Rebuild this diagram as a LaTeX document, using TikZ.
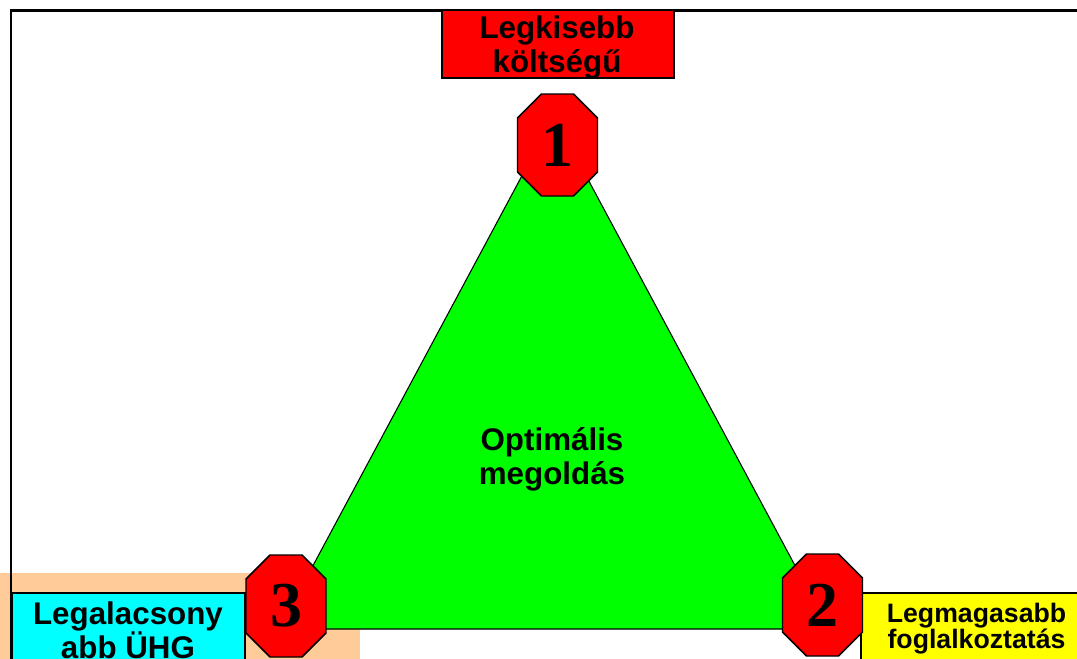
\documentclass[tikz,border=0pt]{standalone}
\usepackage{fontspec}
\setmainfont{Liberation Sans}
\newfontfamily\numfont{Liberation Serif}
\definecolor{peach}{HTML}{FFCC99}
\definecolor{boxcyan}{HTML}{00FFFF}
\definecolor{boxyellow}{HTML}{FFFF00}
\definecolor{boxred}{HTML}{FF0000}
\definecolor{trigreen}{HTML}{00FF00}
\begin{document}
\begin{tikzpicture}[x=0.75pt,y=-0.75pt,
  lbl/.style={font=\fontsize{23.5}{25.5}\selectfont\bfseries, align=center, inner sep=0pt},
  lblsmall/.style={font=\fontsize{20}{19.5}\selectfont\bfseries, align=center, inner sep=0pt},
  boxline/.style={draw=black, line width=1.1pt},
  octline/.style={draw=black, fill=boxred, line width=1.1pt, line join=miter},
  num/.style={inner sep=0pt, font=\numfont\fontsize{48}{48}\selectfont\bfseries}]
\useasboundingbox (0,0) rectangle (1077,658);
\clip (0,0) rectangle (1077,658);
\fill[peach] (0,573) rectangle (360,700);
\draw[line width=1.9pt] (10.8,700) -- (10.8,10.3) -- (1100,10.3);
\coordinate (apex) at (554,116);
\coordinate (bl) at (279,629);
\coordinate (br) at (829,629);
\draw[fill=trigreen, draw=black, line width=0.8pt] (apex) -- (bl) -- (br) -- cycle;
\node[lbl] (opt) at (552,459) {Optimális\\megoldás};
\draw[boxline, fill=boxred] (442,10) rectangle (674,78);
\node[lbl] (t1) at (557,47) {Legkisebb\\költségű};
\draw[boxline, fill=boxcyan] (12,593) rectangle (245,700);
\node[lbl] (t3) at (128,630) {Legalacsony\\abb ÜHG};
\draw[boxline, fill=boxyellow] (861,593) rectangle (1100,700);
\node[lblsmall] (t2) at (976.5,629) {Legmagasabb\\foglalkoztatás};
\coordinate (c1) at (557.5,145);
\coordinate (c3) at (286,606);
\coordinate (c2) at (822.5,605);
\foreach \c in {c1,c2,c3}{
  \draw[octline, shift={(\c)}] (-16,-51) -- (16,-51) -- (40,-27) -- (40,27) -- (16,51) -- (-16,51) -- (-40,27) -- (-40,-27) -- cycle;
}
\node[num] (n1) at (c1) {1};
\node[num] (n3) at (c3) {3};
\node[num] (n2) at (c2) {2};
\end{tikzpicture}
\end{document}
